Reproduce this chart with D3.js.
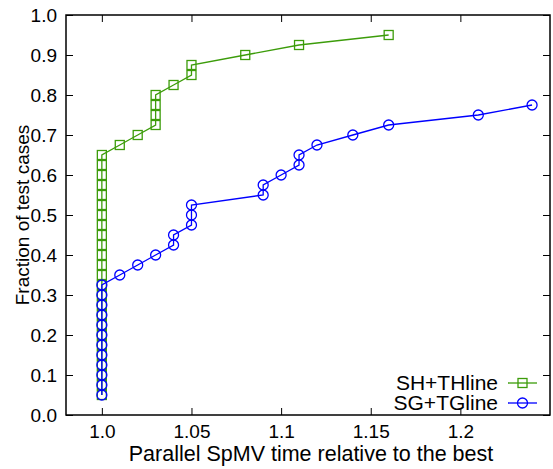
<!DOCTYPE html>
<html>
<head>
<meta charset="utf-8">
<script src="https://cdn.jsdelivr.net/npm/d3@7"></script>
<style>
  html, body { margin: 0; padding: 0; background: #fff; }
  svg { display: block; font-family: "Liberation Sans", Arial, sans-serif; }
</style>
</head>
<body>
<svg id="chart" width="553" height="469"></svg>
<script>
// Relative parallel SpMV time (x) vs. cumulative fraction of test cases (y)
const shthX = [1.0,1.0,1.0,1.0,1.0,1.0,1.0,1.0,1.0,1.0,1.0,1.0,1.0,1.0,1.0,1.0,1.0,1.0,1.0,1.0,1.0,1.0,1.0,1.0,1.0,
               1.01,1.02,1.03,1.03,1.03,1.03,1.04,1.05,1.05,1.08,1.11,1.16];
const shthY = [0.05,0.075,0.1,0.125,0.15,0.175,0.2,0.225,0.25,0.275,0.3,0.325,0.35,0.375,0.4,0.425,0.45,0.475,0.5,0.525,0.55,0.575,0.6,0.625,0.65,
               0.675,0.7,0.725,0.75,0.775,0.8,0.825,0.85,0.875,0.9,0.925,0.95];

const sgtgX = [1.0,1.0,1.0,1.0,1.0,1.0,1.0,1.0,1.0,1.0,1.0,1.0,
               1.01,1.02,1.03,1.04,1.04,1.05,1.05,1.05,1.09,1.09,1.10,1.11,1.11,1.12,1.14,1.16,1.21,1.24];
const sgtgY = [0.05,0.075,0.1,0.125,0.15,0.175,0.2,0.225,0.25,0.275,0.3,0.325,
               0.35,0.375,0.4,0.425,0.45,0.475,0.5,0.525,0.55,0.575,0.6,0.625,0.65,0.675,0.7,0.725,0.75,0.775];

const xTicks = [1.0, 1.05, 1.1, 1.15, 1.2];
const xTickLabels = ["1.0", "1.05", "1.1", "1.15", "1.2"];
const yTicks = [0.0,0.1,0.2,0.3,0.4,0.5,0.6,0.7,0.8,0.9,1.0];

const seriesNames = ["SH+THline", "SG+TGline"];
const seriesColors = ["#3c9c0a", "#0000ff"];

const svg = d3.select("#chart");
const plotL = 66, plotR = 550, plotT = 15, plotB = 415;

const x = d3.scaleLinear().domain([0.98, 1.25]).range([plotL, plotR]);
const y = d3.scaleLinear().domain([0, 1]).range([plotB, plotT]);

const tickLen = 7;
const axisFont = 19;
const fontFam = "Liberation Sans, Arial, sans-serif";

// frame
svg.append("rect")
  .attr("x", plotL).attr("y", plotT)
  .attr("width", plotR - plotL).attr("height", plotB - plotT)
  .attr("fill", "none").attr("stroke", "#000").attr("stroke-width", 1.5);

// inward ticks on all four sides, labels on bottom and left
const gx = svg.append("g").attr("transform", `translate(0,${plotB})`)
  .call(d3.axisBottom(x).tickValues(xTicks).tickSize(-tickLen).tickPadding(10)
        .tickFormat((d, i) => xTickLabels[i]));
gx.select(".domain").remove();
gx.selectAll("text").attr("font-size", axisFont).attr("fill", "#000").attr("font-family", fontFam);
gx.selectAll("line").attr("stroke", "#000");

const gxt = svg.append("g").attr("transform", `translate(0,${plotT})`)
  .call(d3.axisTop(x).tickValues(xTicks).tickSize(-tickLen).tickFormat(""));
gxt.select(".domain").remove();
gxt.selectAll("line").attr("stroke", "#000");

const gy = svg.append("g").attr("transform", `translate(${plotL},0)`)
  .call(d3.axisLeft(y).tickValues(yTicks).tickSize(-tickLen).tickPadding(9)
        .tickFormat(d3.format(".1f")));
gy.select(".domain").remove();
gy.selectAll("text").attr("font-size", axisFont).attr("fill", "#000").attr("font-family", fontFam);
gy.selectAll("line").attr("stroke", "#000");

const gyr = svg.append("g").attr("transform", `translate(${plotR},0)`)
  .call(d3.axisRight(y).tickValues(yTicks).tickSize(-tickLen).tickFormat(""));
gyr.select(".domain").remove();
gyr.selectAll("line").attr("stroke", "#000");

// axis titles
svg.append("text")
  .attr("x", 311).attr("y", 461)
  .attr("text-anchor", "middle").attr("font-size", 21.5)
  .text("Parallel SpMV time relative to the best");

svg.append("text")
  .attr("transform", `translate(29,${(plotT + plotB) / 2}) rotate(-90)`)
  .attr("text-anchor", "middle").attr("font-size", 19)
  .text("Fraction of test cases");

const line = d3.line().x(d => x(d[0])).y(d => y(d[1]));
const sq = 9, rad = 5;

function drawSeries(xs, ys, color, marker) {
  const pts = xs.map((v, i) => [v, ys[i]]);
  svg.append("path").datum(pts)
    .attr("d", line).attr("fill", "none")
    .attr("stroke", color).attr("stroke-width", 1.3);
  if (marker === "square") {
    svg.append("g").selectAll("rect").data(pts).join("rect")
      .attr("x", d => x(d[0]) - sq / 2).attr("y", d => y(d[1]) - sq / 2)
      .attr("width", sq).attr("height", sq)
      .attr("fill", "none").attr("stroke", color).attr("stroke-width", 1.3);
  } else {
    svg.append("g").selectAll("circle").data(pts).join("circle")
      .attr("cx", d => x(d[0])).attr("cy", d => y(d[1])).attr("r", rad)
      .attr("fill", "none").attr("stroke", color).attr("stroke-width", 1.3);
  }
}

drawSeries(shthX, shthY, seriesColors[0], "square");
drawSeries(sgtgX, sgtgY, seriesColors[1], "circle");

// legend
const legend = [
  { name: seriesNames[0], color: seriesColors[0], marker: "square", yy: 383 },
  { name: seriesNames[1], color: seriesColors[1], marker: "circle", yy: 403 }
];
legend.forEach(l => {
  svg.append("text").attr("x", 498).attr("y", l.yy + 7)
    .attr("text-anchor", "end").attr("font-size", 21).text(l.name);
  svg.append("line").attr("x1", 508).attr("x2", 537).attr("y1", l.yy).attr("y2", l.yy)
    .attr("stroke", l.color).attr("stroke-width", 1.3);
  if (l.marker === "square") {
    svg.append("rect").attr("x", 522.5 - sq / 2).attr("y", l.yy - sq / 2)
      .attr("width", sq).attr("height", sq).attr("fill", "none")
      .attr("stroke", l.color).attr("stroke-width", 1.3);
  } else {
    svg.append("circle").attr("cx", 522.5).attr("cy", l.yy).attr("r", rad)
      .attr("fill", "none").attr("stroke", l.color).attr("stroke-width", 1.3);
  }
});
</script>
</body>
</html>
